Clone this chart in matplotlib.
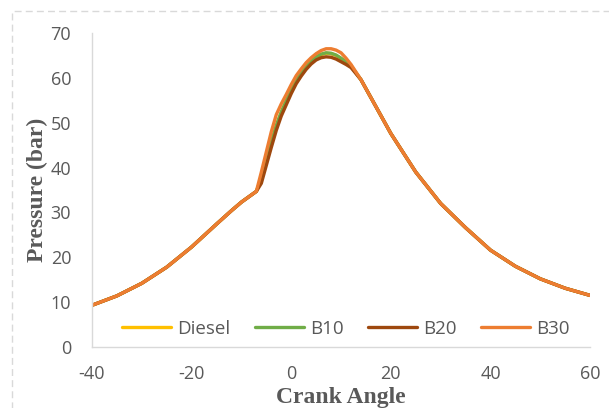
import matplotlib
matplotlib.use("Agg")
import matplotlib.pyplot as plt
from matplotlib.patches import Rectangle

plt.rcParams["axes.unicode_minus"] = False

# Crank angle (deg) and in-cylinder pressure (bar) for each fuel blend
crank_angle = [-40, -35, -30, -25, -20, -15, -12, -10, -8, -7,
               -6, -5, -4, -3, -2, -1, 0, 1, 2, 3, 4, 5, 6, 7, 8, 9, 10, 11, 12,
               14, 16, 18, 20, 25, 30, 35, 40, 45, 50, 55, 60]

compression = [9.3, 11.4, 14.2, 17.8, 22.3, 27.4, 30.4, 32.3, 33.9, 34.7]
expansion = [59.6, 55.6, 51.6, 47.6, 39.0, 32.0, 26.6, 21.6, 18.0, 15.2, 13.1, 11.5]

diesel = compression + [37.5, 41.5, 45.5, 49.3, 52.3, 54.8, 57.2, 59.3, 61.0, 62.5,
                        63.7, 64.6, 65.2, 65.5, 65.4, 65.0, 64.3, 63.5, 62.6] + expansion
b10 = compression + [37.6, 41.6, 45.6, 49.4, 52.4, 54.9, 57.3, 59.4, 61.1, 62.6,
                     63.8, 64.7, 65.3, 65.6, 65.5, 65.1, 64.4, 63.6, 62.7] + expansion
b20 = compression + [36.5, 40.5, 44.5, 48.3, 51.5, 54.0, 56.5, 58.7, 60.4, 61.9,
                     63.1, 64.0, 64.5, 64.7, 64.6, 64.2, 63.6, 63.0, 62.3] + expansion
b30 = compression + [39.0, 43.5, 48.0, 51.8, 54.2, 56.3, 58.5, 60.5, 62.0, 63.4,
                     64.5, 65.4, 66.1, 66.5, 66.5, 66.2, 65.6, 64.4, 63.0] + expansion

series_names = ["Diesel", "B10", "B20", "B30"]
series_values = [diesel, b10, b20, b30]
series_colors = ["#FFC000", "#70AD47", "#9E480E", "#ED7D31"]

x_ticks = [-40, -20, 0, 20, 40, 60]
y_ticks = [0, 10, 20, 30, 40, 50, 60, 70]

text_grey = "#595959"
ui_font = "Open Sans"

fig = plt.figure(figsize=(6.09, 4.08), dpi=100)
fig.patch.set_facecolor("white")

# dashed outline of the chart area
border = Rectangle((0.0197, -0.05), 1.2, 1.023, transform=fig.transFigure,
                   fill=False, edgecolor="#D9D9D9", linewidth=1.0,
                   linestyle=(0, (5, 3)), zorder=0)
fig.patches.append(border)

ax = fig.add_axes([0.151, 0.1495, 0.818, 0.7695])
for name, vals, col in zip(series_names, series_values, series_colors):
    ax.plot(crank_angle, vals, color=col, linewidth=2.4, label=name,
            solid_capstyle="round", solid_joinstyle="round")

ax.set_xlim(-40, 60)
ax.set_ylim(0, 70)
ax.set_xticks(x_ticks)
ax.set_yticks(y_ticks)
ax.tick_params(axis="x", length=0, labelsize=13, labelcolor=text_grey, pad=13)
ax.tick_params(axis="y", length=0, labelsize=13, labelcolor=text_grey, pad=15)
for lab in ax.get_xticklabels() + ax.get_yticklabels():
    lab.set_family(ui_font)

for side in ["top", "right"]:
    ax.spines[side].set_visible(False)
for side in ["left", "bottom"]:
    ax.spines[side].set_color("#D9D9D9")
    ax.spines[side].set_linewidth(1.0)

ax.set_xlabel("Crank Angle", family="Liberation Serif", fontweight="bold",
              fontsize=17, color=text_grey, labelpad=3)
ax.set_ylabel("Pressure (bar)", family="Liberation Serif", fontweight="bold",
              fontsize=17, color=text_grey, labelpad=2)

leg = ax.legend(loc="center", bbox_to_anchor=(0.51, 0.058), ncol=4,
                frameon=False, handlelength=2.6, handletextpad=0.35,
                columnspacing=1.3, borderpad=0.0,
                prop={"family": ui_font, "size": 13.5})
for t in leg.get_texts():
    t.set_color(text_grey)
for h in leg.get_lines():
    h.set_linewidth(2.4)

fig.savefig("out.png", dpi=100)
